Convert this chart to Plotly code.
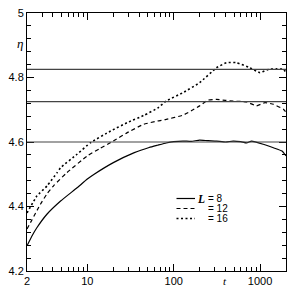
import math
import plotly.graph_objects as go

# ---- data ----
t_L8 = [2, 2.3, 2.6, 3.4, 4.9, 7.6, 10, 12, 20, 35, 52, 65, 82, 100, 128, 160, 200, 250, 313, 400, 490, 600, 700, 800, 1090, 1430, 1800, 2000]
eta_L8 = [4.278, 4.31, 4.334, 4.376, 4.417, 4.458, 4.485, 4.50, 4.536, 4.567, 4.583, 4.59, 4.597, 4.601, 4.603, 4.602, 4.606, 4.604, 4.603, 4.600, 4.603, 4.601, 4.597, 4.603, 4.593, 4.582, 4.572, 4.557]

t_L12 = [2, 2.86, 3.42, 4.08, 5.8, 10, 14, 20, 29, 45, 65, 82, 128, 160, 200, 250, 313, 400, 490, 700, 910, 1140, 1430, 1880, 2000]
eta_L12 = [4.33, 4.407, 4.44, 4.465, 4.505, 4.557, 4.58, 4.603, 4.629, 4.655, 4.665, 4.670, 4.683, 4.697, 4.712, 4.730, 4.732, 4.729, 4.727, 4.724, 4.712, 4.722, 4.717, 4.701, 4.692]

t_L16 = [2, 2.61, 3.42, 4.47, 4.89, 7.6, 10.9, 18.6, 29, 45.5, 65, 82, 128, 200, 313, 408, 534, 763, 1000, 1245, 1560, 1880, 2000]
eta_L16 = [4.38, 4.433, 4.464, 4.505, 4.52, 4.562, 4.598, 4.634, 4.66, 4.683, 4.705, 4.727, 4.753, 4.784, 4.830, 4.846, 4.846, 4.830, 4.815, 4.825, 4.827, 4.825, 4.815]

ref_levels = [4.825, 4.725, 4.60]

x_tickvals = [2, 10, 100, 1000]
x_ticktext = ["2", "10", "100", "1000"]
x_minor = [3, 4, 5, 6, 7, 8, 9, 20, 30, 40, 50, 60, 70, 80, 90,
           200, 300, 400, 500, 600, 700, 800, 900]
y_tickvals = [4.2, 4.4, 4.6, 4.8, 5.0]
y_ticktext = ["4.2", "4.4", "4.6", "4.8", "5"]

legend_labels = ["= 8", "= 12", "= 16"]

# ---- layout geometry (pixels) ----
W, H = 294, 293
L_, R_, T_, B_ = 27, 8, 13, 22
pw, ph = W - L_ - R_, H - T_ - B_


def px(x):
    return (x - L_) / pw


def py(y):
    return (H - B_ - y) / ph


fig = go.Figure()
series = [
    (t_L8, eta_L8, "solid", 1.2),
    (t_L12, eta_L12, "4px,3px", 1.2),
    (t_L16, eta_L16, "2px,2.5px", 1.6),
]
for tx, ey, dash, w in series:
    fig.add_trace(go.Scatter(x=tx, y=ey, mode="lines",
                             line=dict(color="black", width=w, dash=dash, shape="spline", smoothing=0.4),
                             showlegend=False, hoverinfo="skip"))

shapes = []
for lv in ref_levels:
    shapes.append(dict(type="line", xref="paper", yref="y", x0=0, x1=1, y0=lv, y1=lv,
                       line=dict(color="#444", width=1.2)))

# manual legend
rows_y = [198.5, 208.5, 218.5]
dashes = ["solid", "4px,3px", "2px,2.5px"]
widths = [1.2, 1.2, 1.6]
annotations = []
for i, (ry, d, w) in enumerate(zip(rows_y, dashes, widths)):
    shapes.append(dict(type="line", xref="paper", yref="paper",
                       x0=px(176.5), x1=px(195), y0=py(ry), y1=py(ry),
                       line=dict(color="black", width=w, dash=d)))
    annotations.append(dict(xref="paper", yref="paper", x=px(206.5), y=py(ry),
                            text=legend_labels[i], showarrow=False, borderpad=0,
                            xanchor="left", yanchor="middle",
                            font=dict(family="Liberation Sans, Arial", size=10, color="black")))
annotations.append(dict(xref="paper", yref="paper", x=px(206), y=py(rows_y[0]),
                        text="<b><i>L</i></b>", showarrow=False, borderpad=0,
                        xanchor="right", yanchor="middle",
                        font=dict(family="Liberation Serif, Times New Roman", size=11.5, color="black")))
annotations.append(dict(xref="paper", yref="paper", x=px(20), y=py(43),
                        text="<i>η</i>", showarrow=False, xanchor="center", yanchor="middle",
                        font=dict(family="Liberation Serif, Times New Roman", size=13, color="black")))
annotations.append(dict(xref="paper", yref="paper", x=px(225), y=py(280.5),
                        text="<i>t</i>", showarrow=False, xanchor="center", yanchor="middle",
                        borderpad=0,
                        font=dict(family="Liberation Serif, Times New Roman", size=11, color="black")))

axis_font = dict(family="Liberation Sans, Arial", size=11, color="black")
fig.update_layout(
    width=W, height=H,
    margin=dict(l=L_, r=R_, t=T_, b=B_),
    paper_bgcolor="white", plot_bgcolor="white",
    shapes=shapes, annotations=annotations,
    xaxis=dict(type="log", range=[math.log10(2), math.log10(2000)],
               tickvals=x_tickvals, ticktext=x_ticktext, automargin=False,
               ticks="inside", ticklen=7, tickcolor="black", tickwidth=1,
               minor=dict(tickvals=x_minor, ticks="inside", ticklen=4, tickcolor="black", tickwidth=1),
               showline=True, linecolor="black", linewidth=1, mirror="ticks",
               showgrid=False, zeroline=False, tickfont=axis_font),
    yaxis=dict(range=[4.2, 5.0], tickvals=y_tickvals, ticktext=y_ticktext, automargin=False,
               ticks="inside", ticklen=7, tickcolor="black", tickwidth=1,
               minor=dict(dtick=0.04, tick0=4.2, ticks="inside", ticklen=4, tickcolor="black", tickwidth=1),
               showline=True, linecolor="black", linewidth=1, mirror="ticks",
               showgrid=False, zeroline=False, tickfont=axis_font),
)

fig.write_html("out.html", config={"displayModeBar": False},
               post_script="document.body.style.margin='0';document.body.style.overflow='hidden';")
